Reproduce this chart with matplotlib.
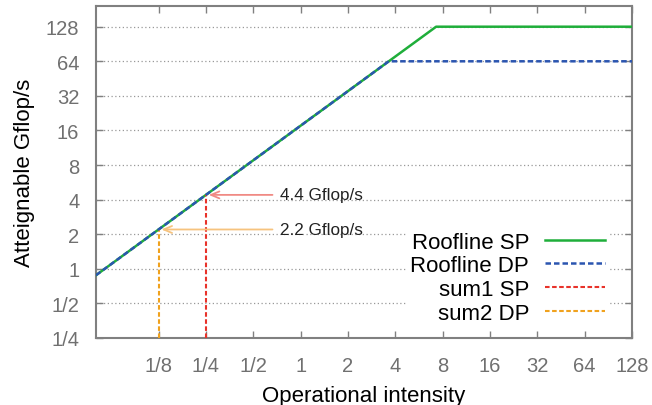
import matplotlib
matplotlib.use("Agg")
import matplotlib.pyplot as plt
import numpy as np

plt.rcParams['font.family'] = ['Liberation Sans', 'DejaVu Sans']

# Data
bandwidth = 17.6          # Gflop/s per (flop/byte)
peak_sp = 128.0
peak_dp = 64.0
x_min, x_max = 0.05, 128.0
y_min, y_max = 0.25, 195.0
sum1_intensity, sum1_perf = 0.25, 4.4
sum2_intensity, sum2_perf = 0.125, 2.2
x_ticks = [1/8, 1/4, 1/2, 1, 2, 4, 8, 16, 32, 64, 128]
x_tick_labels = ["1/8", "1/4", "1/2", "1", "2", "4", "8", "16", "32", "64", "128"]
y_ticks = [1/4, 1/2, 1, 2, 4, 8, 16, 32, 64, 128]
y_tick_labels = ["1/4", "1/2", "1", "2", "4", "8", "16", "32", "64", "128"]
annot1_text = "4.4 Gflop/s"
annot2_text = "2.2 Gflop/s"

fig = plt.figure(figsize=(6.52, 4.06), dpi=100)
ax = fig.add_axes([96/652, 67/406, (632-96)/652, (339-6.7)/406])

ax.set_xscale('log', base=2)
ax.set_yscale('log', base=2)
ax.set_xlim(x_min, x_max)
ax.set_ylim(y_min, y_max)

green = '#1fae3a'
blue = '#2b55b0'
red = '#e8322a'
orange = '#f0a21e'

# Roofline SP
sp_x = [x_min, peak_sp / bandwidth, x_max]
sp_y = [x_min * bandwidth, peak_sp, peak_sp]
ax.plot(sp_x, sp_y, color=green, lw=1.8, label='Roofline SP', zorder=3)
# Roofline DP
dp_x = [x_min, peak_dp / bandwidth, x_max]
dp_y = [x_min * bandwidth, peak_dp, peak_dp]
ax.plot(dp_x, dp_y, color=blue, lw=1.8, ls=(0, (2.2, 1.2)), label='Roofline DP', zorder=4)
# sum1 SP
ax.plot([sum1_intensity, sum1_intensity], [y_min, sum1_perf], color=red, lw=1.5,
        ls=(0, (2.2, 1.2)), label='sum1 SP', zorder=3)
# sum2 DP
ax.plot([sum2_intensity, sum2_intensity], [y_min, sum2_perf], color=orange, lw=1.5,
        ls=(0, (2.2, 1.2)), label='sum2 DP', zorder=3)

# Annotations
ax.annotate('', xy=(sum1_intensity, sum1_perf), xytext=(0.69, sum1_perf),
            arrowprops=dict(arrowstyle='->,head_length=0.6,head_width=0.25', color='#f08a84', lw=1.3),
            zorder=5)
ax.text(0.74, sum1_perf, annot1_text, ha='left', va='center', fontsize=12.3, color='#222222')
ax.annotate('', xy=(sum2_intensity, sum2_perf), xytext=(0.69, sum2_perf),
            arrowprops=dict(arrowstyle='->,head_length=0.6,head_width=0.25', color='#f6c37e', lw=1.3),
            zorder=5)
ax.text(0.74, sum2_perf, annot2_text, ha='left', va='center', fontsize=12.3, color='#222222')

ax.set_xticks(x_ticks)
ax.set_xticklabels(x_tick_labels)
ax.set_yticks(y_ticks)
ax.set_yticklabels(y_tick_labels)
ax.minorticks_off()

ax.tick_params(axis='both', direction='in', length=5, width=1, color='#808080',
               labelcolor='#707070', labelsize=14.5, top=True, right=True)
ax.tick_params(axis='x', pad=13)
ax.tick_params(axis='y', pad=12)

for s in ax.spines.values():
    s.set_color('#808080')
    s.set_linewidth(1.5)

ax.yaxis.grid(True, ls=(0, (1, 2)), color='#999999', lw=0.9)
ax.set_axisbelow(True)

ax.set_xlabel('Operational intensity', fontsize=16, labelpad=7)
ax.set_ylabel('Atteignable Gflop/s', fontsize=16, labelpad=8)

leg = ax.legend(loc='lower right', bbox_to_anchor=(609/652, 77/406), bbox_transform=fig.transFigure,
                markerfirst=False, fontsize=16, frameon=True, fancybox=False,
                edgecolor='none', facecolor='white', framealpha=1,
                handlelength=2.7, handletextpad=0.7, labelspacing=0.12, borderpad=0.2,
                borderaxespad=0)

fig.savefig('out.png', dpi=100)
